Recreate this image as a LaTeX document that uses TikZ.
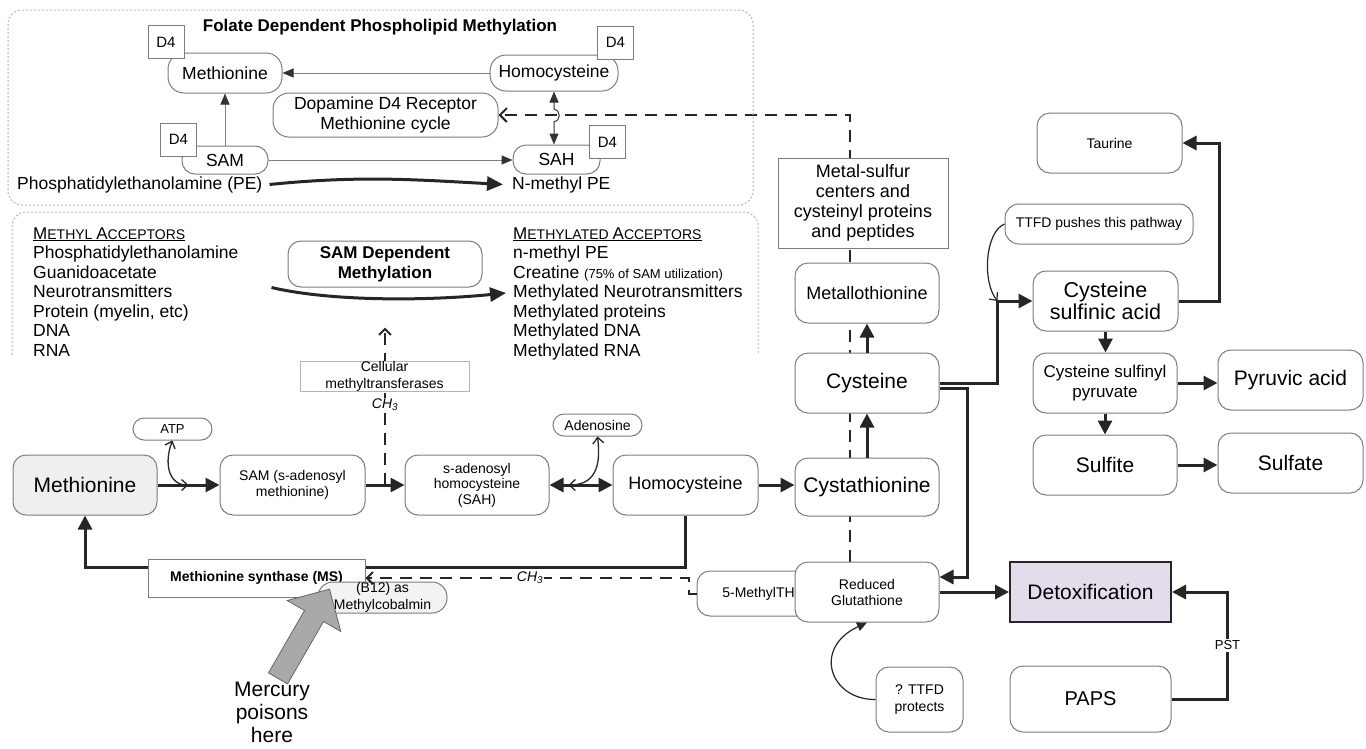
\documentclass[tikz,border=0pt]{standalone}
\usepackage{fontspec}
\setmainfont{Liberation Sans}
\usetikzlibrary{arrows.meta,calc}
\pgfdeclarelayer{bg}
\pgfsetlayers{bg,main}
\definecolor{edgegray}{HTML}{7C7C7C}
\definecolor{framegray}{HTML}{B4B4B4}
\definecolor{detoxfill}{HTML}{E4DBEB}
\definecolor{metfill}{HTML}{EFEFEF}
\definecolor{b12fill}{HTML}{F3F3F3}
\definecolor{hgfill}{HTML}{A9A9A9}
\newcommand{\fs}[2]{\fontsize{#1}{#2}\selectfont}
\tikzset{
  rbox/.style={draw=edgegray, line width=1pt, rounded corners=13pt, fill=white,
    align=center, inner sep=0pt, font=\fs{14}{16}},
  sbox/.style={draw=edgegray, line width=1pt, fill=white, align=center, inner sep=0pt},
  d4box/.style={sbox, minimum width=36pt, minimum height=33pt, font=\fs{15}{18}},
  txt/.style={inner sep=0pt, anchor=base west, font=\fs{17.5}{20}},
  thk/.style={line width=3pt, draw=black!85, -{Triangle[length=14pt,width=14pt]}},
  thkboth/.style={line width=3pt, draw=black!85, {Triangle[length=14pt,width=14pt]}-{Triangle[length=14pt,width=14pt]}},
  thn/.style={line width=1pt, draw=gray, -{Triangle[length=11pt,width=9pt,color=black!80]}},
  dsh/.style={line width=2pt, draw=black!85, dash pattern=on 12pt off 8pt},
  obarb/.style={-{Straight Barb[length=6pt,width=12pt]}},
  bbarb/.style={{Straight Barb[length=6pt,width=11pt]}-{Straight Barb[length=6pt,width=11pt]}},
  frm/.style={draw=framegray, line width=1pt, dash pattern=on 2pt off 2pt, rounded corners=14pt},
}
\begin{document}
\begin{tikzpicture}[x=1pt,y=-1pt]
\useasboundingbox (0,0) rectangle (1366,748);

% ---------- folate dependent phospholipid methylation
\draw[frm] (8,10) rectangle (753,205);
\node[font=\bfseries\fs{17}{20}] (title) at (380,27) {Folate Dependent Phospholipid Methylation};
\node[rbox, minimum width=114pt, minimum height=40pt, rounded corners=16pt, font=\fs{17.5}{20}] (metT) at (225,73) {Methionine};
\node[rbox, minimum width=128pt, minimum height=36pt, rounded corners=16pt, font=\fs{17.5}{20}] (hcyT) at (554,73) {Homocysteine};
\node[rbox, minimum width=225pt, minimum height=44pt, rounded corners=16pt, font=\fs{17.5}{20}] (dopa) at (385.5,115) {Dopamine D4 Receptor\\Methionine cycle};
\node[rbox, minimum width=86pt, minimum height=28pt, font=\fs{17.5}{20}] (samT) at (225,160) {SAM};
\node[rbox, minimum width=87pt, minimum height=29pt, font=\fs{17.5}{20}] (sahT) at (556.5,159.5) {SAH};
\node[d4box] (d4a) at (166,42) {D4};
\node[d4box] (d4b) at (178.5,139.5) {D4};
\node[d4box] (d4c) at (615.5,42.5) {D4};
\node[d4box] (d4d) at (607.5,142) {D4};
\node[txt] (pe) at (17,189) {Phosphatidylethanolamine (PE)};
\node[txt] (nmpe) at (512,189) {N-methyl PE};

\draw[thn] (hcyT.west) -- (metT.east);
\draw[thn] (samT.north) -- (metT.south);
\draw[thn] (samT.east) -- (samT.east -| sahT.west);
\draw[line width=1pt, draw=black!80, {Triangle[length=11pt,width=9pt]}-{Triangle[length=11pt,width=9pt]}]
  (hcyT.south) -- ++(0,18) .. controls +(7,0) and +(7,0) .. ++(0,12) -- (hcyT.south |- sahT.north);
\draw[line width=3pt, draw=black!85, -{Triangle[length=16pt,width=14pt]}]
  ([xshift=7pt]pe.east) .. controls +(90,-9) and +(-90,-5) .. ([xshift=-9pt]nmpe.west);

% ---------- SAM dependent methylation
\draw[frm] (12,355) -- (12,212) -- (758,212) -- (758,355);
\node[txt] (lhead) at (33,239) {\underline{\fs{17}{20}M\fs{14}{17}ETHYL \fs{17}{20}A\fs{14}{17}CCEPTORS}};
\foreach \t [count=\i] in {Phosphatidylethanolamine, Guanidoacetate, Neurotransmitters, {Protein (myelin, etc)}, DNA, RNA}
  \node[txt] (lacc\i) at (33,{239+19.5*\i}) {\t};
\node[txt] (rhead) at (513,239) {\underline{\fs{17}{20}M\fs{14}{17}ETHYLATED \fs{17}{20}A\fs{14}{17}CCEPTORS}};
\foreach \t [count=\i] in {n-methyl PE, {Creatine {\fs{13}{15}(75\% of SAM utilization)}}, Methylated Neurotransmitters, Methylated proteins, Methylated DNA, Methylated RNA}
  \node[txt] (racc\i) at (513,{239+19.5*\i}) {\t};
\node[rbox, minimum width=194pt, minimum height=46pt, font=\bfseries\fs{17}{20}] (samdep) at (385,264) {SAM Dependent\\Methylation};
\draw[line width=3pt, draw=black!85, -{Triangle[length=16pt,width=14pt]}]
  ([xshift=-16pt]samdep.south west) .. controls +(60,14) and +(-80,8) .. ([xshift=-7pt]racc3.west);
\node[sbox, draw=framegray, minimum width=169pt, minimum height=29pt, font=\fs{14}{17}] (cmt) at (384.5,376.5) {Cellular\\methyltransferases};
\node[fill=white, inner sep=1pt, font=\itshape\fs{14}{16}] (ch3a) at (385,405) {CH\textsubscript{3}};

% ---------- methionine cycle
\node[rbox, fill=metfill, minimum width=144pt, minimum height=60pt, font=\fs{21}{24}] (met) at (85,485) {Methionine};
\node[rbox, minimum width=145pt, minimum height=60pt, font=\fs{14}{16}] (sam) at (292.5,485) {SAM (s-adenosyl\\methionine)};
\node[rbox, minimum width=144pt, minimum height=60pt, font=\fs{14}{15.5}] (sah) at (477,485) {s-adenosyl\\homocysteine\\(SAH)};
\node[rbox, minimum width=145pt, minimum height=60pt, font=\fs{18}{21}] (hcy) at (685.5,485) {Homocysteine};
\node[rbox, minimum width=144pt, minimum height=58pt, font=\fs{21}{24}] (cysta) at (867,487) {Cystathionine};
\node[rbox, minimum width=79pt, minimum height=22pt, rounded corners=11pt, font=\fs{13}{15}] (atp) at (172.5,429) {ATP};
\node[rbox, minimum width=89pt, minimum height=22pt, rounded corners=11pt, font=\fs{14}{16}] (ado) at (597.5,425) {Adenosine};
\node[sbox, minimum width=217pt, minimum height=38pt, font=\bfseries\fs{14}{16}] (ms) at (256.5,578) {Methionine synthase (MS)};
\node[rbox, fill=b12fill, minimum width=129pt, minimum height=31pt, rounded corners=15pt, font=\fs{14}{17}] (b12) at (382.5,597.5) {(B12) as\\Methylcobalmin};
\node[rbox, minimum width=123pt, minimum height=45pt, font=\fs{14}{16}] (meth5) at (758.5,593.5) {5-MethylTH};
\node[rbox, minimum width=144pt, minimum height=60pt, font=\fs{14}{16}] (rg) at (867,592) {Reduced\\Glutathione};
\node[rbox, minimum width=87pt, minimum height=65pt, font=\fs{14}{17}] (ttfdp) at (919.5,699.5) {? TTFD\\protects};

% ---------- transsulfuration
\node[rbox, minimum width=144pt, minimum height=60pt, font=\fs{21}{24}] (cys) at (867,383) {Cysteine};
\node[rbox, minimum width=144pt, minimum height=60pt, font=\fs{18}{21}] (metallo) at (867,293) {Metallothionine};
\node[sbox, minimum width=170pt, minimum height=90pt, font=\fs{18}{20}] (msul) at (863,203) {Metal-sulfur\\centers and\\cysteinyl proteins\\and peptides};
\node[rbox, minimum width=145pt, minimum height=60pt, font=\fs{14}{16}] (taur) at (1109.5,143) {Taurine};
\node[rbox, minimum width=188pt, minimum height=40pt, rounded corners=14pt, font=\fs{14}{16}] (ttfd) at (1099,224) {TTFD pushes this pathway};
\node[rbox, minimum width=145pt, minimum height=60pt, font=\fs{21.5}{22}] (csa) at (1105.5,301) {Cysteine\\sulfinic acid};
\node[rbox, minimum width=144pt, minimum height=60pt, font=\fs{17}{20}] (csp) at (1105,383) {Cysteine sulfinyl\\pyruvate};
\node[rbox, minimum width=145pt, minimum height=60pt, font=\fs{21}{24}] (pyr) at (1290.5,380) {Pyruvic acid};
\node[rbox, minimum width=144pt, minimum height=60pt, font=\fs{21}{24}] (sulfite) at (1105,465) {Sulfite};
\node[rbox, minimum width=145pt, minimum height=60pt, font=\fs{21}{24}] (sulfate) at (1290.5,463) {Sulfate};
\node[draw=black!85, line width=2pt, fill=detoxfill, minimum width=161pt, minimum height=60pt, inner sep=0pt, font=\fs{21}{24}] (detox) at (1090.5,592) {Detoxification};
\node[rbox, minimum width=161pt, minimum height=66pt, font=\fs{20}{24}] (paps) at (1090.5,699) {PAPS};

% ---------- connectors
\coordinate (atpj) at ($(met.east)!0.5!(sam.west)$);
\coordinate (mtj) at ($(sam.east)!0.5!(sah.west)$);
\coordinate (adoj) at ($(sah.east)!0.3!(hcy.west)$);
\coordinate (loopy) at (0,567);
\coordinate (cj) at ([xshift=-35pt]csa.west);

\begin{pgfonlayer}{bg}
  \draw[dsh, -{Straight Barb[length=7pt,width=14pt]}] ([xshift=-17pt]rg.north) -- ([xshift=-17pt]rg.north |- dopa.east) -- (dopa.east);
  \draw[dsh, obarb] (mtj) -- ([yshift=-40pt]samdep.south);
  \draw[thk] (hcy.south) -- (hcy.south |- loopy) -- (met.south |- loopy) -- (met.south);
\end{pgfonlayer}

\draw[thk] (met) -- (sam);
\draw[thk] (sam) -- (sah);
\draw[thkboth] (sah) -- (hcy);
\draw[thk] (hcy.east) -- (hcy.east -| cysta.west);
\draw[line width=1.3pt, draw=black!85, bbarb] (atpj) .. controls (168,485) and (164,462) .. (atp.south);
\draw[line width=1.3pt, draw=black!85, bbarb] (adoj) .. controls (600,485) and (600,458) .. (ado.south);

\draw[dsh, obarb] (meth5.west) -- ++(-8,0) |- (ms.east);
\node[fill=white, inner sep=1pt, font=\itshape\fs{14}{16}] (ch3b) at (530,578) {CH\textsubscript{3}};

\draw[thk] (cysta.north) -- (cys.south);
\draw[thk] (cys.north) -- (metallo.south);
\draw[thk] (cys.east) -| (cj) -- (csa.west);
\draw[thk] ([yshift=-5pt]cys.east) -- ++(28,0) |- ([yshift=15pt]rg.east);
\draw[thk] (rg.east) -- (detox.west);
\draw[thk] (csa.east) -- ++(41,0) |- (taur.east);
\draw[thk] (csa.south) -- (csa.south |- csp.north);
\draw[thk] (csp.south) -- (csp.south |- sulfite.north);
\draw[thk] (csp.east) -- (csp.east -| pyr.west);
\draw[thk] (sulfite.east) -- (sulfite.east -| sulfate.west);
\draw[thk] (paps.east) -- ++(56,0) |- node[pos=0.25, fill=white, inner sep=2pt, font=\fs{13}{15}] (pst) {PST} (detox.east);

\draw[line width=1.2pt, draw=black!85, -{Straight Barb[length=6pt,width=11pt]}] (ttfd.west) .. controls (985,232) and (982,282) .. (cj);
\draw[line width=1.2pt, draw=black!85, -{Triangle[length=10pt,width=9pt]}] (ttfdp.west) .. controls (830,700) and (812,648) .. (rg.south);

% ---------- mercury block
\draw[draw=gray!80!black, fill=hgfill, line width=0.8pt]
  (268.5,672.9) -- (304.5,610.5) -- (287.2,600.5) -- (329.5,589.2) -- (340.8,631.5) -- (323.5,621.5) -- (287.5,683.9) -- cycle;
\node[align=center, font=\fs{21}{23}] (hg) at (272,712) {Mercury\\poisons\\here};

\end{tikzpicture}
\end{document}
